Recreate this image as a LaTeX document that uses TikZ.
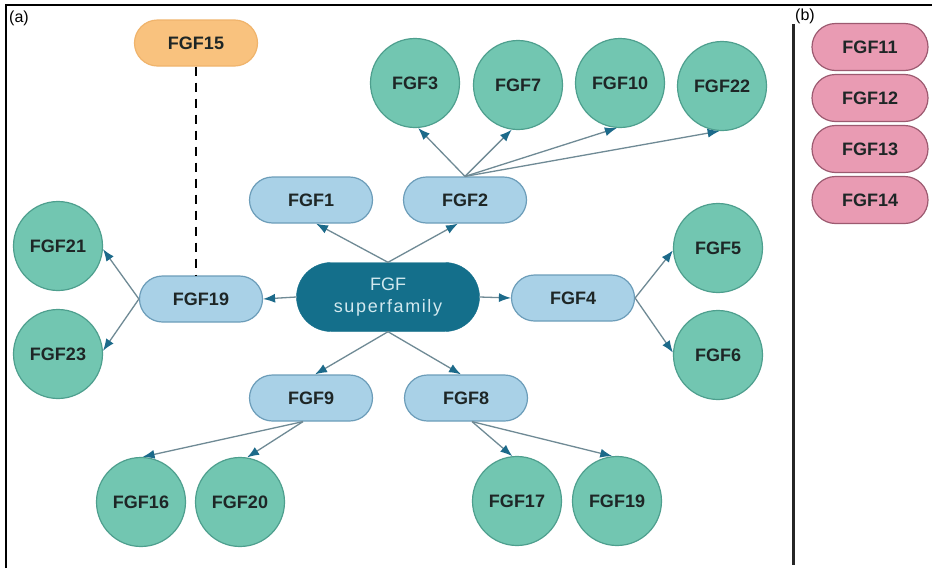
\documentclass[tikz,border=0pt]{standalone}
\usepackage{fontspec}
\setmainfont{Liberation Sans}
\usetikzlibrary{shapes.misc,arrows.meta,calc}
\definecolor{circf}{HTML}{72C6B1}
\definecolor{circd}{HTML}{4E9F8E}
\definecolor{pillf}{HTML}{A9D1E7}
\definecolor{pilld}{HTML}{6C9DB9}
\definecolor{sff}{HTML}{146F8B}
\definecolor{sft}{HTML}{D2E9EF}
\definecolor{orf}{HTML}{F9C27E}
\definecolor{ord}{HTML}{F0B46C}
\definecolor{pkf}{HTML}{E99BB3}
\definecolor{pkd}{HTML}{9C5A70}
\definecolor{arrc}{HTML}{6F8A95}
\definecolor{tipc}{HTML}{1C6A8A}
\definecolor{txt}{HTML}{1E2626}
\begin{document}
\begin{tikzpicture}[x=1pt,y=-1pt,
  lbl/.style={font=\bfseries\fontsize{18}{21}\selectfont, text=txt},
  pill/.style={rounded rectangle, draw=pilld, fill=pillf, line width=1.2pt, minimum width=123pt, minimum height=46pt, inner sep=0pt, lbl},
  ball/.style={circle, draw=circd, fill=circf, line width=1.2pt, minimum size=89pt, inner sep=0pt, lbl},
  pink/.style={pill, draw=pkd, fill=pkf, minimum width=116pt, minimum height=47pt},
  orange/.style={pill, draw=ord, fill=orf},
  arr/.style={draw=arrc, line width=1.3pt, -{Latex[length=12pt,width=9pt,color=tipc]}},
  tag/.style={font=\fontsize{16}{18}\selectfont, text=black, inner sep=0pt},
]
\useasboundingbox (0,0) rectangle (932,568);
\fill[white] (0,0) rectangle (932,568);
% frame
\draw[line width=2.5pt, black] (6,568) -- (6,5) -- (932,5);
\draw[line width=3pt, black!85] (793,24) -- (793,565);
\node[tag] (ta) at (19,18) {(a)};
\node[tag] (tb) at (805,16) {(b)};

% central node
\node[rounded rectangle, fill=sff, draw=sff, minimum width=183pt, minimum height=69pt, inner sep=0pt,
      text=sft, align=center, font=\fontsize{18}{22}\selectfont] (sf) at (388,297)
      {FGF\\{\addfontfeatures{LetterSpace=9}superfamily}};

% pills
\node[pill] (fgf1) at (311,200) {FGF1};
\node[pill] (fgf2) at (465,200) {FGF2};
\node[pill] (fgf19) at (201,299) {FGF19};
\node[pill] (fgf4) at (573,298) {FGF4};
\node[pill] (fgf9) at (311,398) {FGF9};
\node[pill] (fgf8) at (466,398) {FGF8};
\node[orange] (fgf15) at (196,43) {FGF15};

% circles
\node[ball] (fgf3) at (415,83) {FGF3};
\node[ball] (fgf7) at (518,85) {FGF7};
\node[ball] (fgf10) at (620,83) {FGF10};
\node[ball] (fgf22) at (722,86) {FGF22};
\node[ball] (fgf5) at (718,248) {FGF5};
\node[ball] (fgf6) at (718,355) {FGF6};
\node[ball] (fgf21) at (58,246) {FGF21};
\node[ball] (fgf23) at (58,354) {FGF23};
\node[ball] (fgf16) at (141,502) {FGF16};
\node[ball] (fgf20) at (240,502) {FGF20};
\node[ball] (fgf17) at (517,501) {FGF17};
\node[ball] (fgf19b) at (617,501) {FGF19};

% pink
\node[pink] (fgf11) at (870,47) {FGF11};
\node[pink] (fgf12) at (870,98) {FGF12};
\node[pink] (fgf13) at (870,149) {FGF13};
\node[pink] (fgf14) at (870,200) {FGF14};

% dashed link
\draw[line width=2.5pt, black, dash pattern=on 9pt off 7pt] (fgf15.south) -- (fgf15.south |- fgf19.north);

% arrows from superfamily
\draw[arr] (sf.north) -- ($(fgf1.south)+(5,0)$);
\draw[arr] (sf.north) -- ($(fgf2.south)+(-7,0)$);
\draw[arr] (sf.south) -- ($(fgf9.north)+(4,0)$);
\draw[arr] (sf.south) -- ($(fgf8.north)+(-5,0)$);
\draw[arr] (sf.west) -- (fgf19.east);
\draw[arr] (sf.east) -- (fgf4.west);

% FGF2 subfamily
\draw[arr] (fgf2.north) -- (fgf3.-86);
\draw[arr] (fgf2.north) -- (fgf7.-98);
\draw[arr] (fgf2.north) -- (fgf10.-94);
\draw[arr] (fgf2.north) -- (fgf22.-93);
% FGF4
\draw[arr] (fgf4.east) -- (fgf5.183);
\draw[arr] (fgf4.east) -- (fgf6.177);
% FGF19
\draw[arr] (fgf19.west) -- (fgf21.-4);
\draw[arr] (fgf19.west) -- (fgf23.4);
% FGF9
\draw[arr] ($(fgf9.south)+(-8,0)$) -- (fgf16.88);
\draw[arr] ($(fgf9.south)+(-8,0)$) -- (fgf20.81);
% FGF8
\draw[arr] ($(fgf8.south)+(6,0)$) -- (fgf17.96);
\draw[arr] ($(fgf8.south)+(6,0)$) -- (fgf19b.96);
\end{tikzpicture}
\end{document}
